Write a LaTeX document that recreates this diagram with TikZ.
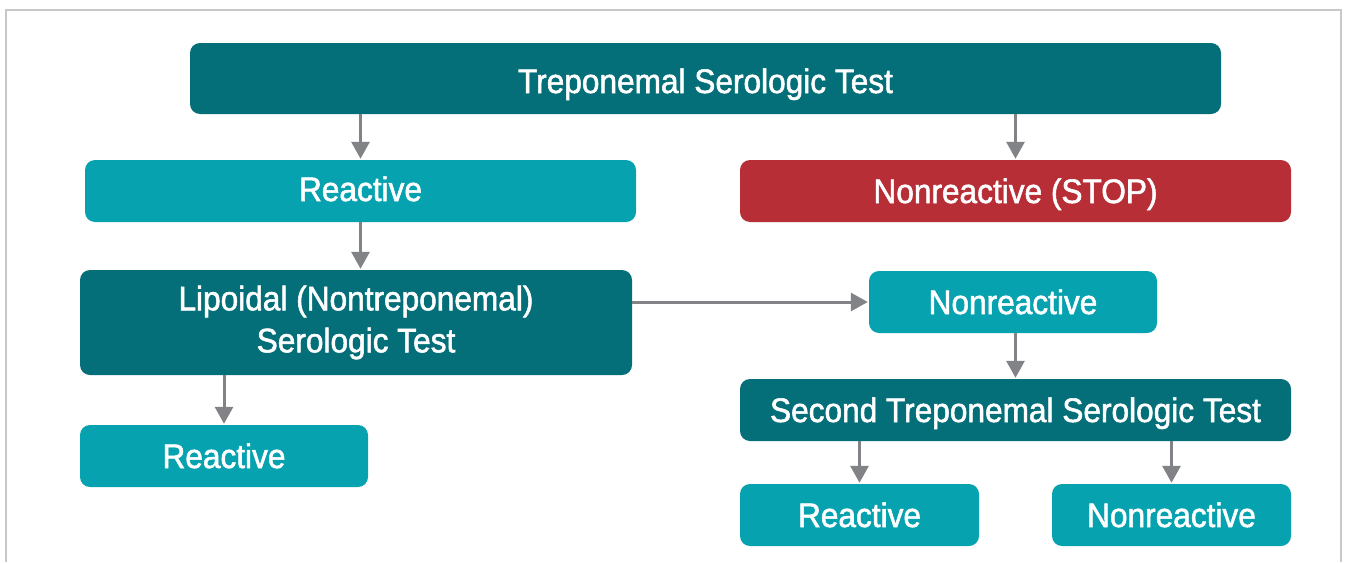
\documentclass[tikz,border=0pt]{standalone}
\usepackage{fontspec}
\setmainfont{Liberation Sans}[FakeStretch=0.93, FakeBold=1.6]
\usetikzlibrary{arrows.meta}
\definecolor{darkteal}{HTML}{046F78}
\definecolor{lightteal}{HTML}{06A2AF}
\definecolor{stopred}{HTML}{B72E36}
\definecolor{arrowgray}{HTML}{828387}
\definecolor{framegray}{HTML}{C8C8C8}
\tikzset{
  box/.style={rounded corners=10pt, inner sep=0pt},
  dbox/.style={box, fill=darkteal},
  lbox/.style={box, fill=lightteal},
  rbox/.style={box, fill=stopred},
  lbl/.style={text=white, font=\fontsize{34}{42}\selectfont, align=center, inner sep=0pt, anchor=base, yshift=-12pt},
  conn/.style={draw=arrowgray, line width=3pt, -{Triangle[width=18pt,length=17pt]}, shorten >=1pt}
}
\begin{document}
\begin{tikzpicture}[x=1pt,y=-1pt]
\useasboundingbox (0,0) rectangle (1348,562);
\draw[framegray, line width=2.5pt] (6,562) -- (6,10) -- (1341,10) -- (1341,562);
\node[dbox, minimum width=1031pt, minimum height=71pt] (top) at (705.5,78.5) {};
\node[lbox, minimum width=551pt, minimum height=62pt] (react1) at (360.5,191) {};
\node[rbox, minimum width=551pt, minimum height=62pt] (stop) at (1015.5,191) {};
\node[dbox, minimum width=552pt, minimum height=105pt] (lip) at (356,322.5) {};
\node[lbox, minimum width=288pt, minimum height=62pt] (nonr1) at (1013,302) {};
\node[dbox, minimum width=551pt, minimum height=62pt] (second) at (1015.5,410) {};
\node[lbox, minimum width=288pt, minimum height=62pt] (react2) at (224,456) {};
\node[lbox, minimum width=239pt, minimum height=62pt] (react3) at (859.5,515) {};
\node[lbox, minimum width=239pt, minimum height=62pt] (nonr2) at (1171.5,515) {};
\node[lbl, yshift=-2.5pt] (ttop) at (top.center) {Treponemal Serologic Test};
\node[lbl, yshift=2pt] (treact1) at (react1.center) {Reactive};
\node[lbl] (tstop) at (stop.center) {Nonreactive (STOP)};
\node[lbl, anchor=center, yshift=12pt] (tlip) at (lip.center) {Lipoidal (Nontreponemal)\\Serologic Test};
\node[lbl] (tnonr1) at (nonr1.center) {Nonreactive};
\node[lbl] (tsecond) at (second.center) {Second Treponemal Serologic Test};
\node[lbl] (treact2) at (react2.center) {Reactive};
\node[lbl] (treact3) at (react3.center) {Reactive};
\node[lbl] (tnonr2) at (nonr2.center) {Nonreactive};
\draw[conn] (top.south -| react1.north) -- (react1.north);
\draw[conn] (top.south -| stop.north) -- (stop.north);
\draw[conn] (react1.south) -- (react1.south |- lip.north);
\draw[conn] (lip.south -| react2.north) -- (react2.north);
\draw[conn] (lip.east |- nonr1.west) -- (nonr1.west);
\draw[conn] (nonr1.south -| second.north) -- (second.north);
\draw[conn] (second.south -| react3.north) -- (react3.north);
\draw[conn] (second.south -| nonr2.north) -- (nonr2.north);
\end{tikzpicture}
\end{document}
